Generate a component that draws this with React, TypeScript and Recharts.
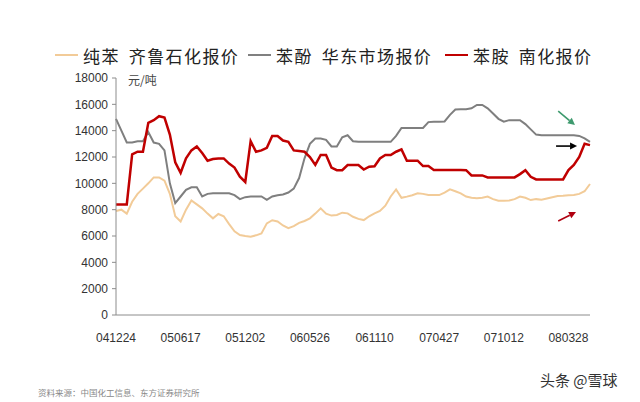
import React from 'react';
import { LineChart, Line, XAxis, YAxis, ReferenceLine } from 'recharts';

// weekly-ish samples, one label every 12 points
const dateLabels = ['041224', '050617', '051202', '060526', '061110', '070427', '071012', '080328'];
const yTicks = [0, 2000, 4000, 6000, 8000, 10000, 12000, 14000, 16000, 18000];

// 苯酚 华东市场报价
const phenol = [
  14900, 14000, 13100, 13100, 13200, 13200, 13900, 13100, 13000, 12500,
  10000, 8500, 9000, 9500, 9700, 9700, 9000, 9200, 9250, 9250,
  9250, 9250, 9100, 8800, 8950, 9000, 9000, 9000, 8750, 9000,
  9100, 9150, 9300, 9600, 10400, 11900, 13000, 13400, 13400, 13300,
  12800, 12800, 13500, 13650, 13200, 13150, 13150, 13150, 13150, 13150,
  13150, 13150, 13600, 14200, 14200, 14200, 14200, 14200, 14650, 14680,
  14680, 14700, 15200, 15600, 15620, 15620, 15700, 15950, 15950, 15700,
  15300, 14900, 14680, 14800, 14800, 14800, 14500, 14100, 13700, 13650,
  13650, 13650, 13650, 13650, 13650, 13650, 13600, 13420, 13150,
];

// 苯胺 南化报价
const aniline = [
  8400, 8400, 8400, 12200, 12400, 12400, 14600, 14800, 15100, 15000,
  13700, 11600, 10800, 11900, 12500, 12800, 12300, 11720, 11850, 11890,
  11890, 11500, 11200, 10500, 10100, 13200, 12400, 12500, 12700, 13600,
  13600, 13250, 13150, 12500, 12450, 12400, 12000, 11400, 12150, 12150,
  11200, 11000, 11000, 11390, 11390, 11390, 11050, 11260, 11300, 11890,
  12150, 12150, 12400, 12580, 11720, 11720, 11720, 11310, 11310, 11010,
  11010, 11010, 11010, 11010, 11010, 11000, 10600, 10600, 10600, 10450,
  10450, 10450, 10450, 10450, 10450, 10700, 11000, 10500, 10300, 10300,
  10300, 10300, 10300, 10300, 11010, 11400, 12000, 13000, 12900,
];

// 纯苯 齐鲁石化报价
const benzene = [
  7900, 8000, 7700, 8600, 9200, 9600, 10000, 10450, 10450, 10200,
  9200, 7500, 7100, 8000, 8700, 8400, 8100, 7700, 7340, 7670,
  7500, 6900, 6350, 6070, 6000, 5950, 6050, 6200, 6960, 7200,
  7100, 6800, 6600, 6750, 7000, 7140, 7340, 7700, 8100, 7700,
  7550, 7600, 7770, 7720, 7460, 7300, 7210, 7500, 7720, 7900,
  8300, 9000, 9540, 8900, 8990, 9100, 9240, 9200, 9110, 9110,
  9110, 9300, 9540, 9400, 9240, 9000, 8900, 8860, 8900, 8990,
  8800, 8680, 8680, 8700, 8800, 8990, 8900, 8730, 8800, 8750,
  8850, 8950, 9040, 9050, 9100, 9110, 9200, 9400, 9950,
];

const rows = phenol.map((v, i) => ({ i, phenol: v, aniline: aniline[i], benzene: benzene[i] }));
const xTicks = dateLabels.map((_, k) => k * 12);

const Arrow = (props: any) => {
  const { x1, y1, x2, y2, color } = props;
  const a = Math.atan2(y2 - y1, x2 - x1);
  const L = 7;
  const W = 3.5;
  const bx = x2 - L * Math.cos(a);
  const by = y2 - L * Math.sin(a);
  const p1 = `${bx + W * Math.sin(a)},${by - W * Math.cos(a)}`;
  const p2 = `${bx - W * Math.sin(a)},${by + W * Math.cos(a)}`;
  return (
    <g>
      <line x1={x1} y1={y1} x2={bx} y2={by} stroke={color} strokeWidth={1.6} />
      <polygon points={`${x2},${y2} ${p1} ${p2}`} fill={color} />
    </g>
  );
};

const legendItems = [
  { left: 55, color: '#F2CB98', name: '纯苯', source: '齐鲁石化报价' },
  { left: 248, color: '#808080', name: '苯酚', source: '华东市场报价' },
  { left: 445, color: '#C00000', name: '苯胺', source: '南化报价' },
];

const cjk = "'Noto Sans CJK SC', sans-serif";
const latin = "'Liberation Sans', Arial, sans-serif";

export default function App() {
  return (
    <div style={{ position: 'absolute', left: 0, top: 0, width: 640, height: 402, background: '#fff' }}>
      {legendItems.map((it) => (
        <div key={it.name} style={{ position: 'absolute', left: it.left, top: 43, height: 24, display: 'flex', alignItems: 'center', fontFamily: cjk, fontSize: 17, letterSpacing: 1.4, color: '#222', whiteSpace: 'nowrap' }}>
          <div style={{ width: 23, height: 2.5, background: it.color, marginRight: 5 }} />
          <span>{it.name}</span>
          <span style={{ marginLeft: 9 }}>{it.source}</span>
        </div>
      ))}
      <div style={{ position: 'absolute', left: 128, top: 71, fontFamily: cjk, fontSize: 12, color: '#444' }}>元/吨</div>
      <LineChart width={640} height={402} data={rows} margin={{ top: 78, right: 50, left: 0, bottom: 57 }}>
        <XAxis
          dataKey="i"
          type="number"
          domain={[0, 88]}
          ticks={xTicks}
          tickFormatter={(v: number) => dateLabels[Math.round(v / 12)]}
          stroke="#8c8c8c"
          tickLine={false}
          tickSize={8}
          tickMargin={10}
          height={30}
          tick={{ fill: '#333', fontSize: 12, fontFamily: latin }}
        />
        <YAxis
          domain={[0, 18000]}
          ticks={yTicks}
          width={116}
          stroke="#8c8c8c"
          tickSize={4}
          tickMargin={4}
          tick={{ fill: '#333', fontSize: 12, fontFamily: latin }}
        />
        <Line dataKey="benzene" stroke="#F2CB98" strokeWidth={2} dot={false} isAnimationActive={false} />
        <Line dataKey="phenol" stroke="#7F7F7F" strokeWidth={2} dot={false} isAnimationActive={false} />
        <Line dataKey="aniline" stroke="#C00000" strokeWidth={2.5} dot={false} isAnimationActive={false} />
        <ReferenceLine segment={[{ x: 82.1, y: 15490 }, { x: 85.2, y: 14430 }]} shape={(p: any) => <Arrow {...p} color="#3E9A6E" />} />
        <ReferenceLine segment={[{ x: 81.7, y: 12830 }, { x: 85.6, y: 12830 }]} shape={(p: any) => <Arrow {...p} color="#000" />} />
        <ReferenceLine segment={[{ x: 82.1, y: 7140 }, { x: 85.4, y: 7820 }]} shape={(p: any) => <Arrow {...p} color="#B00010" />} />
      </LineChart>
      <div style={{ position: 'absolute', left: 38, top: 386, fontFamily: cjk, fontSize: 8.5, color: '#888' }}>资料来源：中国化工信息、东方证券研究所</div>
      <div style={{ position: 'absolute', left: 540, top: 369, fontFamily: cjk, fontSize: 15, color: '#333' }}>头条 @雪球</div>
    </div>
  );
}
